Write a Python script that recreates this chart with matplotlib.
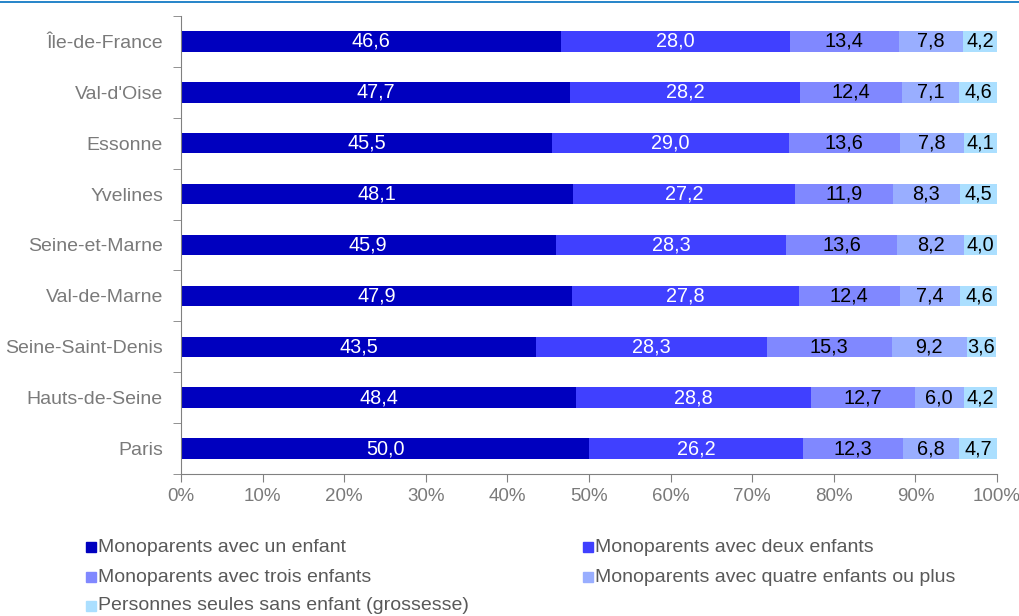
import matplotlib.pyplot as plt
from matplotlib.ticker import FixedLocator, PercentFormatter
from matplotlib.lines import Line2D
from matplotlib.patches import Rectangle
import numpy as np

plt.rcParams["font.family"] = ["Liberation Sans", "DejaVu Sans"]

departements = [
    "Île-de-France", "Val-d'Oise", "Essonne", "Yvelines", "Seine-et-Marne",
    "Val-de-Marne", "Seine-Saint-Denis", "Hauts-de-Seine", "Paris",
]
un_enfant = [46.6, 47.7, 45.5, 48.1, 45.9, 47.9, 43.5, 48.4, 50.0]
deux_enfants = [28.0, 28.2, 29.0, 27.2, 28.3, 27.8, 28.3, 28.8, 26.2]
trois_enfants = [13.4, 12.4, 13.6, 11.9, 13.6, 12.4, 15.3, 12.7, 12.3]
quatre_plus = [7.8, 7.1, 7.8, 8.3, 8.2, 7.4, 9.2, 6.0, 6.8]
sans_enfant = [4.2, 4.6, 4.1, 4.5, 4.0, 4.6, 3.6, 4.2, 4.7]

series = [
    ("Monoparents avec un enfant", un_enfant, "#0000BF", "white"),
    ("Monoparents avec deux enfants", deux_enfants, "#4040FF", "white"),
    ("Monoparents avec trois enfants", trois_enfants, "#8088FF", "black"),
    ("Monoparents avec quatre enfants ou plus", quatre_plus, "#99AEFF", "black"),
    ("Personnes seules sans enfant (grossesse)", sans_enfant, "#ABDFFF", "black"),
]

grey = "#808080"
W, H = 1019, 616
fig = plt.figure(figsize=(W / 100, H / 100), dpi=100)
ax = fig.add_axes([181 / W, 1 - 474 / H, 816 / W, 458 / H])

n = len(departements)
y = np.arange(n)[::-1]
left = np.zeros(n)
for label, values, color, txt in series:
    vals = np.array(values)
    ax.barh(y, vals, left=left, height=0.4, color=color, edgecolor="none")
    for yi, l, v in zip(y, left, vals):
        ax.text(l + v / 2, yi, f"{v:.1f}".replace(".", ","), ha="center", va="center",
                color=txt, fontsize=14.3)
    left += vals

ax.set_xlim(0, 100)
ax.set_ylim(-0.5, n - 0.5)
ax.set_yticks(y)
ax.set_yticklabels(departements)
ax.yaxis.set_minor_locator(FixedLocator(np.arange(-0.5, n, 1)))
ax.tick_params(axis="y", which="major", length=0, pad=13, labelsize=14, labelcolor="#7a7a7a")
ax.tick_params(axis="y", which="minor", length=6, color=grey, direction="out")
ax.set_xticks(np.arange(0, 101, 10))
ax.xaxis.set_major_formatter(PercentFormatter(decimals=0))
ax.tick_params(axis="x", length=6, color=grey, labelsize=13.5, labelcolor="#7a7a7a", pad=4)
for s in ["top", "right"]:
    ax.spines[s].set_visible(False)
for s in ["left", "bottom"]:
    ax.spines[s].set_color(grey)

# legend, two columns, row by row
legend_pos = [(86, 547), (583, 547), (86, 577), (583, 577), (86, 606)]
for (label, _, color, _), (px, py) in zip(series, legend_pos):
    fig.add_artist(Rectangle((px / W, 1 - (py + 5) / H), 10 / W, 10 / H,
                             color=color, transform=fig.transFigure))
    fig.text((px + 12) / W, 1 - py / H, label, ha="left", va="center",
             fontsize=14, color="#595959")

fig.add_artist(Line2D([0, 1], [1 - 2 / H, 1 - 2 / H], color="#0070C0", lw=1.2,
                      transform=fig.transFigure))

fig.savefig("out.png", dpi=100)
